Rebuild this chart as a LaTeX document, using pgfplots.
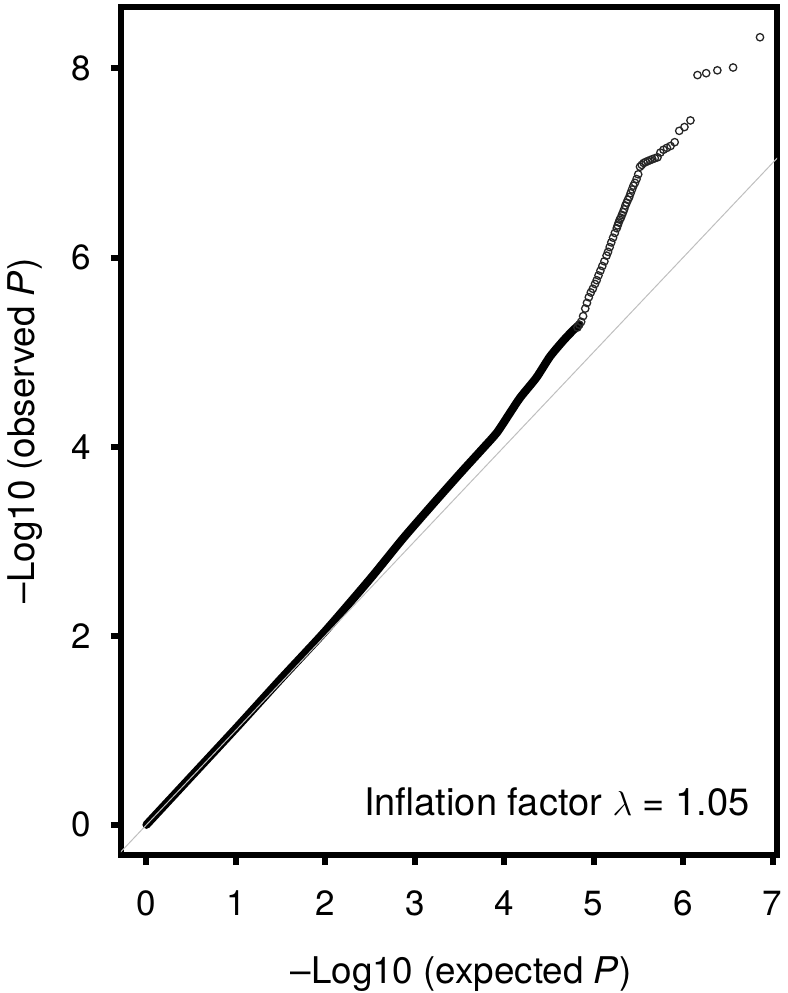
\documentclass[border=0pt]{standalone}
\usepackage{pgfplots}
\pgfplotsset{compat=1.18}
\usepackage{fontspec}
\setmainfont{TeX Gyre Heros}
\begin{document}
\fontsize{17.5}{21}\selectfont
\begin{tikzpicture}
\begin{axis}[name=ax, scale only axis, width=328pt, height=424pt,
  xmin=-0.285, xmax=7.05, ymin=-0.32, ymax=8.65,
  xtick={0,1,2,3,4,5,6,7}, ytick={0,2,4,6,8},
  xtick pos=bottom, ytick pos=left,
  axis line style={line width=3pt},
  tick align=outside, major tick length=5pt,
  tick style={line width=3pt, black},
  /pgf/number format/assume math mode=true,
  ticklabel style={font=\fontsize{17.5}{21}\selectfont},
  xticklabel style={yshift=-7pt},
  yticklabel style={xshift=-4pt},
  label style={font=\fontsize{18.4}{22}\selectfont},
  xlabel={–Log10 (expected \textit{P})},
  ylabel={–Log10 (observed \textit{P})},
  xlabel style={at={(axis description cs:0.5,0)}, anchor=base, yshift=-64pt, xshift=6pt},
  ylabel style={at={(axis description cs:0,0.5)}, anchor=base, yshift=43pt},
  clip=true]
% dense part of the QQ curve (thousands of overlapping points)
\addplot[black, line width=4.1pt, line cap=round, line join=round, smooth, tension=0.4] coordinates {
(0,0) (0.5,0.51) (1.0,1.02) (1.5,1.54) (2.0,2.05) (2.5,2.60) (2.87,3.03)
(3.21,3.40) (3.51,3.72) (3.77,3.99) (3.92,4.15) (4.06,4.35) (4.18,4.52)
(4.36,4.73) (4.51,4.95) (4.66,5.12) (4.77,5.23) (4.84,5.29)};
% sparse tail, individual points
\addplot[only marks, mark=o, mark size=1.85pt, mark options={line width=0.65pt, draw=black!85}] coordinates {
(6.860,8.33) (6.559,8.01) (6.383,7.98) (6.258,7.95) (6.161,7.93)
(6.082,7.45) (6.015,7.38) (5.957,7.34) (5.906,7.22) (5.860,7.18)
(5.819,7.16) (5.781,7.14) (5.746,7.11) (5.714,7.06) (5.684,7.05)
(5.656,7.04) (5.630,7.03) (5.605,7.02) (5.581,7.01) (5.559,7.00)
(5.538,6.98) (5.518,6.96) (5.498,6.88) (5.480,6.83) (5.462,6.79)
(5.445,6.76) (5.429,6.72) (5.413,6.68) (5.398,6.64) (5.383,6.61)
(5.369,6.58) (5.355,6.55) (5.341,6.51) (5.329,6.48) (5.316,6.45)
(5.304,6.42) (5.292,6.40) (5.280,6.37) (5.269,6.34) (5.258,6.31)
(5.237,6.26) (5.217,6.21) (5.197,6.16) (5.179,6.11) (5.161,6.06)
(5.144,6.02) (5.120,5.96) (5.097,5.91) (5.075,5.86) (5.054,5.81)
(5.034,5.76) (5.015,5.72) (4.991,5.67) (4.968,5.63) (4.946,5.58)
(4.925,5.52) (4.906,5.46) (4.882,5.38) (4.860,5.32) (4.839,5.29)
(4.819,5.26)};
% reference line y = x
\addplot[color=black!25, line width=0.5pt] coordinates {(-1,-1) (9,9)};
\node[anchor=base east, inner sep=0pt, font=\fontsize{19}{23}\selectfont] at ([xshift=-13.5pt,yshift=20pt]rel axis cs:1,0) {Inflation factor $\lambda$ = 1.05};
\end{axis}
\pgfresetboundingbox
\path ([shift={(-60.5pt,-69pt)}]ax.south west) rectangle ([shift={(5.5pt,3.5pt)}]ax.north east);
\end{tikzpicture}
\end{document}
